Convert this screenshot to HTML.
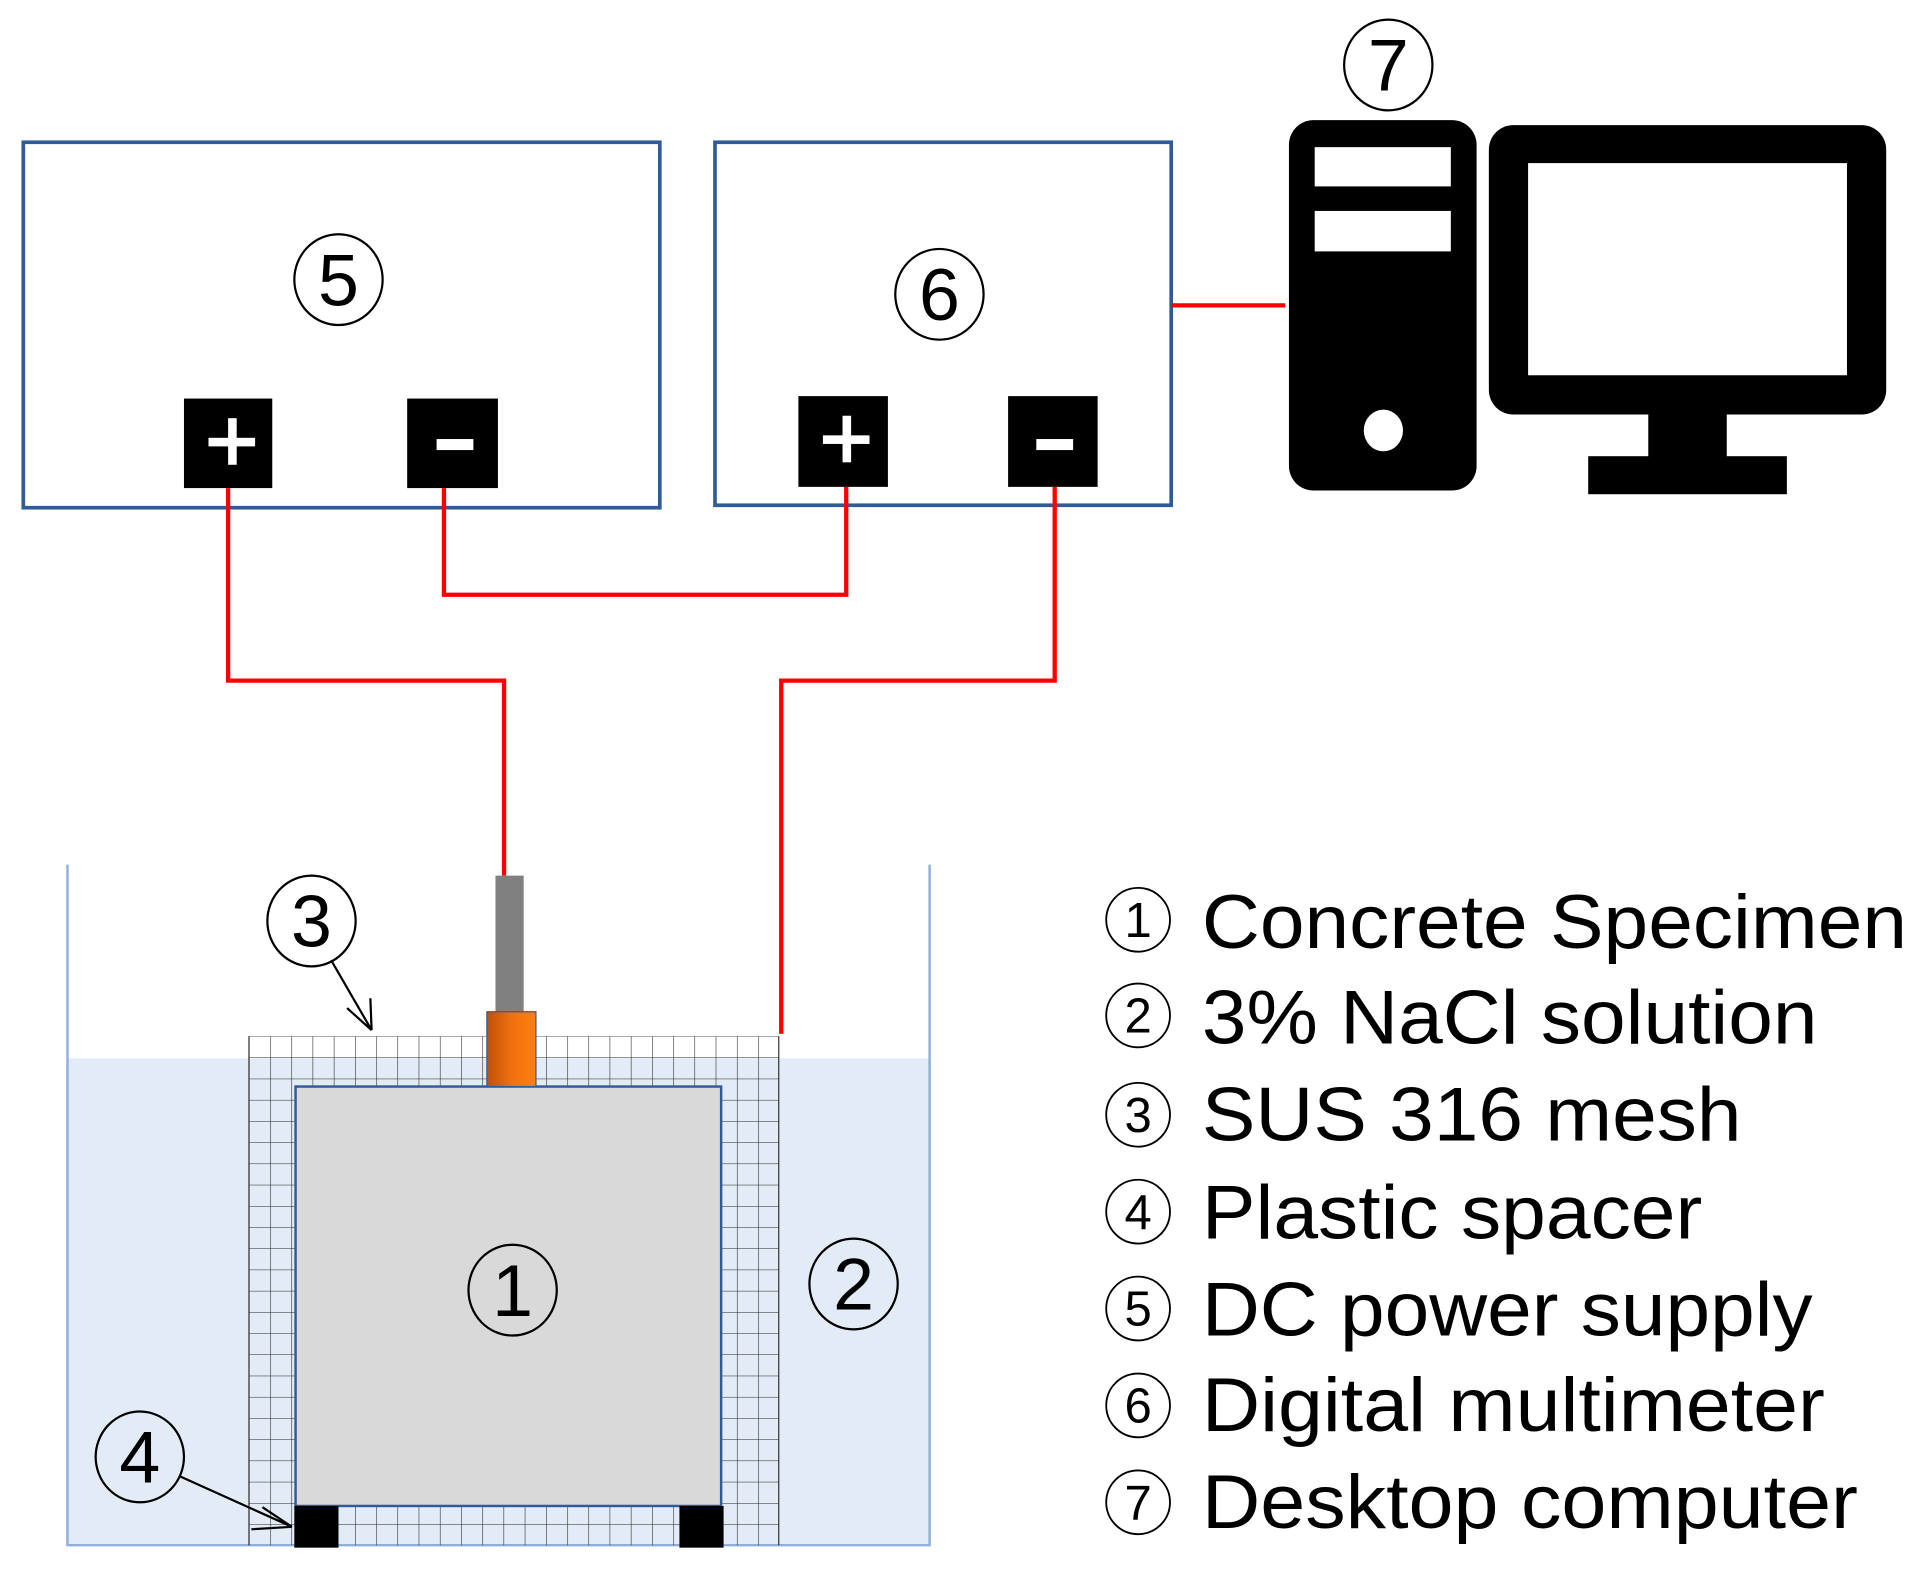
<!DOCTYPE html>
<html><head><meta charset="utf-8"><style>html,body{margin:0;padding:0;background:#fff}svg{display:block}</style></head>
<body>
<svg width="1923" height="1582" viewBox="0 0 1568 1290" preserveAspectRatio="none" xmlns="http://www.w3.org/2000/svg" font-family="Liberation Sans, sans-serif">
<defs>
<pattern id="mesh" x="203" y="845" width="17.3" height="17.3" patternUnits="userSpaceOnUse">
<path d="M0 0H17.3M0 0V17.3" stroke="#222" stroke-width="0.9" fill="none"/>
</pattern>
<linearGradient id="org" x1="0" x2="1"><stop offset="0" stop-color="#c0500a"/><stop offset="0.5" stop-color="#f07010"/><stop offset="1" stop-color="#ff8010"/></linearGradient>
</defs>
<rect x="19" y="116" width="519" height="298" fill="none" stroke="#2e5c9a" stroke-width="3"/>
<rect x="583" y="116" width="372" height="296" fill="none" stroke="#2e5c9a" stroke-width="3"/>
<g fill="#000"><rect x="150" y="325" width="72" height="73"/><rect x="332" y="325" width="74" height="73"/><rect x="651" y="323" width="73" height="74"/><rect x="822" y="323" width="73" height="74"/></g>
<g fill="#fff"><rect x="170" y="357" width="38" height="7"/><rect x="186" y="341" width="7" height="38"/><rect x="356" y="358" width="30" height="9"/><rect x="671" y="355" width="38" height="7"/><rect x="687" y="339" width="7" height="38"/><rect x="845" y="358" width="30" height="9"/></g>
<g fill="none" stroke="#f00" stroke-width="3.5">
<path d="M186 398V555H411V714"/><path d="M362 398V485H690V397"/><path d="M860 397V555H637V843"/><path d="M955 249H1048"/>
</g>
<rect x="1051" y="98" width="153" height="302" rx="20" fill="#000"/>
<rect x="1072" y="120" width="111" height="32" fill="#fff"/><rect x="1072" y="172" width="111" height="33" fill="#fff"/>
<ellipse cx="1128" cy="351" rx="16" ry="17" fill="#fff"/>
<rect x="1214" y="102" width="324" height="236" rx="20" fill="#000"/>
<rect x="1246" y="133" width="260" height="173" fill="#fff"/>
<rect x="1344" y="336" width="64" height="38" fill="#000"/><rect x="1295" y="372" width="162" height="31" fill="#000"/>
<rect x="55" y="863" width="703" height="397" fill="#e2ebf6"/>
<path d="M55 705V1260H758V705" fill="none" stroke="#8eb0dc" stroke-width="2"/>
<rect x="203" y="845" width="432" height="415" fill="url(#mesh)"/>
<path d="M203 845V1260M635 845V1260" stroke="#222" stroke-width="0.9"/>
<rect x="241" y="886" width="347" height="342" fill="#d9d9d9" stroke="#2e5c9a" stroke-width="2"/>
<rect x="404" y="714" width="23" height="111" fill="#808080"/>
<rect x="397" y="825" width="40" height="61" fill="url(#org)" stroke="#2e5c9a" stroke-width="1"/>
<rect x="240" y="1228" width="36" height="34" fill="#000"/><rect x="554" y="1228" width="36" height="34" fill="#000"/>
<g fill="none" stroke="#000" stroke-width="1.8">
<ellipse cx="276" cy="228" rx="36" ry="37"/><ellipse cx="766" cy="240" rx="36" ry="37"/><ellipse cx="1132" cy="53" rx="36" ry="37"/>
<ellipse cx="254" cy="751" rx="36" ry="37"/><ellipse cx="418" cy="1052" rx="36" ry="37"/><ellipse cx="696" cy="1047" rx="36" ry="37"/><ellipse cx="114" cy="1188" rx="36" ry="37"/>
</g>
<g font-size="60" text-anchor="middle" fill="#000">
<text x="276" y="249">5</text><text x="766" y="261">6</text><text x="1132" y="74">7</text>
<text x="254" y="772">3</text><text x="418" y="1073">1</text><text x="696" y="1068">2</text><text x="114" y="1209">4</text>
</g>
<g stroke="#000" stroke-width="1.8" fill="none">
<path d="M270 783L303 840M303 840L283 822M303 840L302 814"/>
<path d="M147 1204L238 1245M238 1245L214 1229M238 1245L205 1247"/>
</g>
<g fill="none" stroke="#000" stroke-width="1.5">
<circle cx="928" cy="750" r="26"/><circle cx="928" cy="828" r="26"/><circle cx="928" cy="909" r="26"/><circle cx="928" cy="988" r="26"/><circle cx="928" cy="1067" r="26"/><circle cx="928" cy="1146" r="26"/><circle cx="928" cy="1225" r="26"/>
</g>
<g font-size="40" text-anchor="middle">
<text x="928" y="764">1</text><text x="928" y="842">2</text><text x="928" y="923">3</text><text x="928" y="1002">4</text><text x="928" y="1081">5</text><text x="928" y="1160">6</text><text x="928" y="1239">7</text>
</g>
<g font-size="62">
<text x="980" y="773" textLength="575" lengthAdjust="spacingAndGlyphs">Concrete Specimen</text>
<text x="980" y="851" textLength="502" lengthAdjust="spacingAndGlyphs">3% NaCl solution</text>
<text x="980" y="930" textLength="440" lengthAdjust="spacingAndGlyphs">SUS 316 mesh</text>
<text x="980" y="1010" textLength="408" lengthAdjust="spacingAndGlyphs">Plastic spacer</text>
<text x="980" y="1089" textLength="498" lengthAdjust="spacingAndGlyphs">DC power supply</text>
<text x="980" y="1167" textLength="508" lengthAdjust="spacingAndGlyphs">Digital multimeter</text>
<text x="980" y="1246" textLength="535" lengthAdjust="spacingAndGlyphs">Desktop computer</text>
</g>
</svg>
</body></html>
